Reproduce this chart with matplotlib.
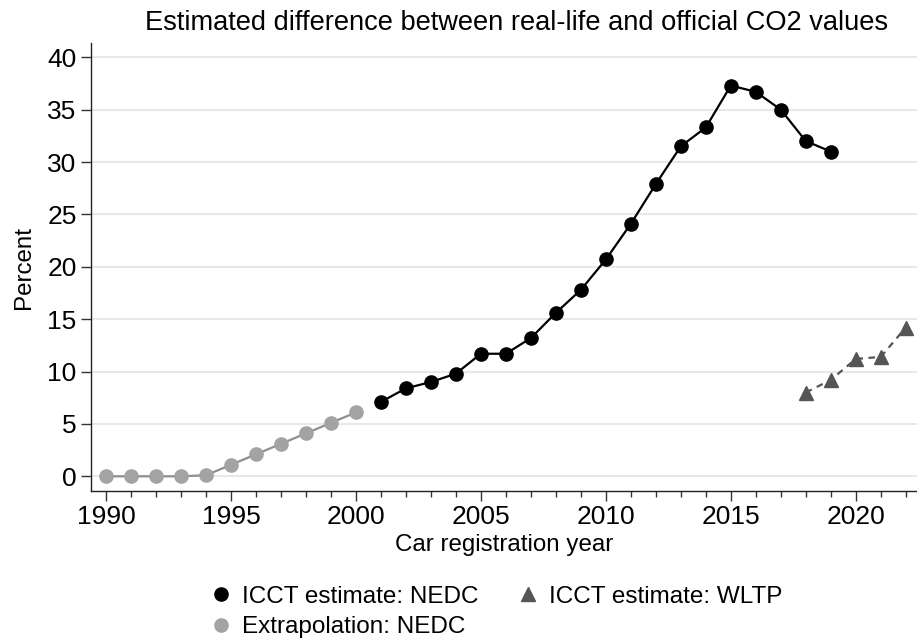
import matplotlib
matplotlib.use("Agg")
import matplotlib.pyplot as plt
from matplotlib.ticker import MultipleLocator

plt.rcParams["font.family"] = ["Liberation Sans", "DejaVu Sans"]

# Extrapolated NEDC gap, 1990-2000
extrap_years = list(range(1990, 2001))
extrap_values = [0.0, 0.0, 0.0, 0.0, 0.1, 1.1, 2.1, 3.1, 4.1, 5.1, 6.1]

# ICCT estimate (NEDC), 2001-2019
nedc_years = list(range(2001, 2020))
nedc_values = [7.1, 8.4, 9.0, 9.8, 11.7, 11.7, 13.2, 15.6, 17.8, 20.7, 24.1,
               27.9, 31.5, 33.3, 37.3, 36.7, 35.0, 32.0, 31.0]

# ICCT estimate (WLTP), 2018-2022
wltp_years = list(range(2018, 2023))
wltp_values = [8.0, 9.2, 11.2, 11.4, 14.2]

title = "Estimated difference between real-life and official CO2 values"
title_fs = 19.6
tick_fs = 19
label_fs = 17.4
legend_fs = 17.5

fig = plt.figure(figsize=(9.17, 6.44), dpi=100)
ax = fig.add_axes([0.0987, 0.2376, 0.9013, 0.6956])

ax.plot(nedc_years, nedc_values, color="black", lw=1.6, marker="o",
        markersize=9.5, label="ICCT estimate: NEDC", zorder=3)
ax.plot(extrap_years, extrap_values, color="#8f8f8f", lw=1.6, marker="o",
        markersize=9.5, markerfacecolor="#a3a3a3", markeredgecolor="#a3a3a3",
        label="Extrapolation: NEDC", zorder=3)
ax.plot(wltp_years, wltp_values, color="#555555", lw=1.6, ls=(0, (3, 2.5)),
        marker="^", markersize=10.5, label="ICCT estimate: WLTP", zorder=3)

ax.set_xlim(1989.38, 2022.45)
ax.set_ylim(-1.4, 41.36)
ax.xaxis.set_major_locator(MultipleLocator(5))
ax.xaxis.set_minor_locator(MultipleLocator(1))
ax.yaxis.set_major_locator(MultipleLocator(5))

ax.grid(axis="y", color="#e8e8e8", lw=1.5, zorder=0)
ax.set_axisbelow(True)
for side in ("top", "right"):
    ax.spines[side].set_visible(False)
for side in ("left", "bottom"):
    ax.spines[side].set_linewidth(1.0)
    ax.spines[side].set_color("#222222")

ax.tick_params(axis="both", which="major", length=7, width=1.0,
               color="#333333", labelsize=tick_fs, pad=3)
ax.tick_params(axis="x", which="minor", length=4, width=1.0, color="#333333")

ax.set_xlabel("Car registration year", fontsize=label_fs, labelpad=3.5)
ax.set_ylabel("Percent", fontsize=label_fs, labelpad=9)
fig.text(0.563, 0.965, title, fontsize=title_fs, ha="center", va="center")

handles, labels = ax.get_legend_handles_labels()
leg_handles = []
for h in handles:
    lh = plt.Line2D([], [], ls="none", marker=h.get_marker(),
                    markersize=9.5, markerfacecolor=h.get_markerfacecolor(),
                    markeredgecolor=h.get_markeredgecolor())
    leg_handles.append(lh)
fig.legend(leg_handles, labels, ncol=2, loc="upper left",
           bbox_to_anchor=(0.2175, 0.109), frameon=False,
           fontsize=legend_fs, handlelength=0.8, handletextpad=0.45,
           columnspacing=1.65, labelspacing=0.35, borderpad=0)

fig.savefig("out.png", dpi=100)
